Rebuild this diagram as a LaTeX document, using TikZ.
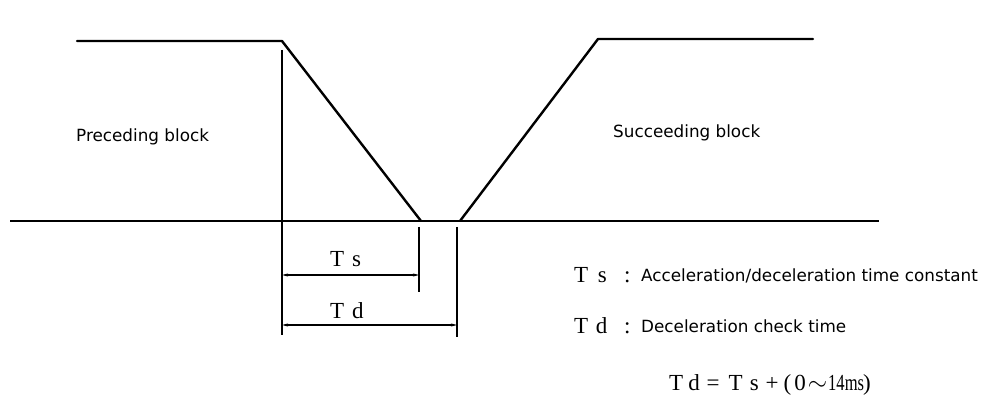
\documentclass[tikz,border=0pt]{standalone}
\usepackage{fontspec}
\setmainfont{Liberation Serif}
\newfontfamily\blockfont{DejaVu Sans}
\usetikzlibrary{arrows.meta}

\tikzset{
  curve/.style={line width=2.4pt,line cap=round,line join=round},
  axis/.style={line width=1.7pt},
  tick/.style={line width=1.5pt},
  dimline/.style={line width=1.3pt,{Stealth[length=6pt,width=3pt]}-{Stealth[length=6pt,width=3pt]}},
  blocktext/.style={font=\blockfont\fontsize{16.8}{19}\selectfont,inner sep=0pt,anchor=base west},
  symtext/.style={font=\fontsize{23}{25}\selectfont,inner sep=0pt,anchor=base west}
}

\begin{document}
\begin{tikzpicture}[x=1pt,y=-1pt]
  \useasboundingbox (0,0) rectangle (991,398);
  % corner points of the speed profile
  \coordinate (s0) at (77,41);
  \coordinate (s1) at (282,41);
  \coordinate (s2) at (421,221);
  \coordinate (s3) at (460,221);
  \coordinate (s4) at (598,39);
  \coordinate (s5) at (813,39);
  \coordinate (base0) at (10,221);
  \coordinate (base1) at (879,221);
  % time marks
  \coordinate (m0a) at (282,50);
  \coordinate (m0b) at (282,335);
  \coordinate (m1a) at (419,227);
  \coordinate (m1b) at (419,292);
  \coordinate (m2a) at (457,227);
  \coordinate (m2b) at (457,337);
  \coordinate (tsL) at (282,275);
  \coordinate (tsR) at (419,275);
  \coordinate (tdL) at (282,325);
  \coordinate (tdR) at (457,325);

  \draw[axis] (base0) -- (base1);
  \draw[curve] (s0) -- (s1) -- (s2);
  \draw[curve] (s3) -- (s4) -- (s5);
  \draw[tick] (m0a) -- (m0b);
  \draw[tick] (m1a) -- (m1b);
  \draw[tick] (m2a) -- (m2b);
  \draw[dimline] (tsL) -- (tsR);
  \draw[dimline] (tdL) -- (tdR);

  \node[blocktext] (prec) at (76,142) {Preceding block};
  \node[blocktext] (succ) at (613,138) {Succeeding block};
  \node[symtext] (tsLbl) at (330,267) {T\hspace{8pt}s};
  \node[symtext] (tdLbl) at (330,318) {T\hspace{8pt}d};

  % legend
  \node[symtext] (tsKey) at (574,283) {T\hspace{9.5pt}s};
  \node[symtext] (tsColon) at (624,283) {:};
  \node[blocktext] (tsDesc) at (641,282) {Acceleration/deceleration time constant};
  \node[symtext] (tdKey) at (574,333) {T\hspace{7.5pt}d};
  \node[symtext] (tdColon) at (624,333) {:};
  \node[blocktext] (tdDesc) at (641,332) {Deceleration check time};
  \node[symtext] (rel) at (669,390) {T\hspace{5pt}d\hspace{7pt}=\hspace{9pt}T\hspace{7pt}s\hspace{7pt}+\hspace{5pt}(\hspace{3pt}0\hspace{2pt}$\sim$\hspace{1pt}\scalebox{0.72}[1]{14ms}\hspace{-1pt})};
\end{tikzpicture}
\end{document}
